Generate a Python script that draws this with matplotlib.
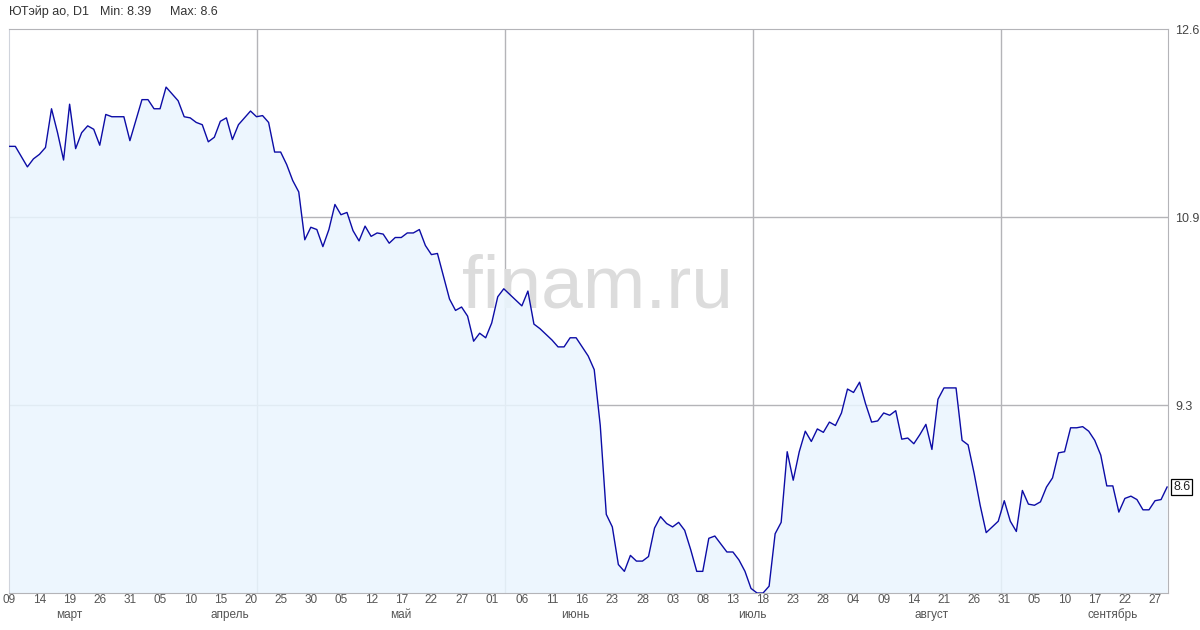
# -*- coding: utf-8 -*-
# график котировок ЮТэйр ао (D1) в стиле finam.ru
import numpy as np
import matplotlib
matplotlib.use("Agg")
import matplotlib.pyplot as plt

# цены закрытия по дням
close = [
    11.57, 11.57, 11.48, 11.39, 11.46, 11.50, 11.56, 11.90, 11.69, 11.45,
    11.94, 11.55, 11.69, 11.75, 11.72, 11.58, 11.85, 11.83, 11.83, 11.83,
    11.62, 11.80, 11.98, 11.98, 11.90, 11.90, 12.09, 12.03, 11.97, 11.83,
    11.82, 11.78, 11.76, 11.61, 11.65, 11.79, 11.82, 11.63, 11.76, 11.82,
    11.88, 11.83, 11.84, 11.78, 11.52, 11.52, 11.41, 11.27, 11.17, 10.75,
    10.86, 10.84, 10.69, 10.84, 11.06, 10.97, 10.99, 10.83, 10.74, 10.87,
    10.78, 10.81, 10.80, 10.72, 10.77, 10.77, 10.81, 10.81, 10.84, 10.70,
    10.62, 10.63, 10.43, 10.23, 10.13, 10.16, 10.08, 9.86, 9.93, 9.89,
    10.02, 10.25, 10.32, 10.27, 10.22, 10.17, 10.30, 10.01, 9.97, 9.92,
    9.87, 9.81, 9.81, 9.89, 9.89, 9.81, 9.73, 9.61, 9.12, 8.34,
    8.23, 7.90, 7.84, 7.98, 7.93, 7.93, 7.97, 8.22, 8.32, 8.26,
    8.23, 8.27, 8.20, 8.03, 7.84, 7.84, 8.13, 8.15, 8.08, 8.01,
    8.01, 7.94, 7.84, 7.69, 7.65, 7.65, 7.71, 8.17, 8.27, 8.89,
    8.64, 8.89, 9.07, 8.98, 9.09, 9.06, 9.15, 9.12, 9.23, 9.44,
    9.41, 9.50, 9.31, 9.15, 9.16, 9.23, 9.21, 9.25, 9.00, 9.01,
    8.96, 9.04, 9.13, 8.91, 9.35, 9.45, 9.45, 9.45, 8.99, 8.95,
    8.70, 8.42, 8.18, 8.23, 8.28, 8.46, 8.28, 8.19, 8.55, 8.43,
    8.42, 8.45, 8.58, 8.66, 8.88, 8.89, 9.10, 9.10, 9.11, 9.07,
    8.99, 8.86, 8.59, 8.59, 8.36, 8.48, 8.50, 8.47, 8.38, 8.38,
    8.46, 8.47, 8.58,
]

# подписи дат (каждые 5 баров)
day_labels = ["09", "14", "19", "26", "31", "05", "10", "15", "20", "25",
              "30", "05", "12", "17", "22", "27", "01", "06", "11", "16",
              "23", "28", "03", "08", "13", "18", "23", "28", "04", "09",
              "14", "21", "26", "31", "05", "10", "17", "22", "27"]
months = ["март", "апрель", "май", "июнь", "июль", "август", "сентябрь"]
month_pos = [10, 36.5, 65, 93.8, 123.2, 153, 183]

# шкала цен
y_ticks = [9.3, 10.95, 12.6]
y_labels = ["9.3", "10.9", "12.6"]

title = "ЮТэйр ао, D1"
lo_txt = "Min: 8.39"
hi_txt = "Max: 8.6"

plt.rcParams['font.family'] = ['Liberation Sans', 'DejaVu Sans']

x = np.arange(len(close))
fig = plt.figure(figsize=(12, 6.3), dpi=100)
ax = fig.add_axes([9 / 1200, 1 - 593 / 630, 1159 / 1200, 564 / 630])

x0, x1 = -0.05, 192.15
ax.set_xlim(x0, x1)
ax.set_ylim(7.65, 12.6)

grid_c = "#b4b4b8"
# горизонтальная сетка
for v in y_ticks[:-1]:
    ax.axhline(v, color=grid_c, lw=1, zorder=0)
# вертикальная сетка через равные промежутки
for k in range(1, 5):
    ax.axvline(x0 + k * 248 / 1159 * (x1 - x0), color=grid_c, lw=1, zorder=0)

# водяной знак
ax.text(0.5075, 0.54, "finam.ru", transform=ax.transAxes, ha="center", va="center",
        fontsize=54, color="#dcdcdc", zorder=1)

# заливка и линия
ax.fill_between(x, close, 7.0, color="#eaf5fe", alpha=0.85, lw=0, zorder=2)
ax.plot(x, close, color="#0c0ca6", lw=1.0, zorder=3)

for s in ["top", "right", "bottom"]:
    ax.spines[s].set_color(grid_c)
ax.spines["left"].set_color("#d0d4dc")

# ось цен справа
ax.yaxis.tick_right()
ax.set_yticks(y_ticks)
ax.set_yticklabels(y_labels)
ax.tick_params(axis="y", length=0, pad=5, labelsize=9, labelcolor="#444444")

# даты
ax.set_xticks(x[::5][:len(day_labels)])
ax.set_xticklabels(day_labels)
ax.tick_params(axis="x", length=0, pad=1, labelsize=8.5, labelcolor="#555555")
for p, m in zip(month_pos, months):
    ax.text(p, -0.039, m, transform=ax.get_xaxis_transform(), ha="center", va="center",
            fontsize=8.5, color="#555555")

# метка последней цены
ax.text(1.0045, close[-1], "%.1f" % close[-1], transform=ax.get_yaxis_transform(),
        ha="left", va="center", fontsize=9, color="#222222",
        bbox=dict(boxstyle="square,pad=0.15", fc="white", ec="black", lw=0.9))

# заголовок
fig.text(9 / 1200, 1 - 12 / 630, title, ha="left", va="center", fontsize=9, color="#333333")
fig.text(100 / 1200, 1 - 12 / 630, lo_txt, ha="left", va="center", fontsize=9, color="#333333")
fig.text(170 / 1200, 1 - 12 / 630, hi_txt, ha="left", va="center", fontsize=9, color="#333333")

fig.savefig("out.png", dpi=100)
